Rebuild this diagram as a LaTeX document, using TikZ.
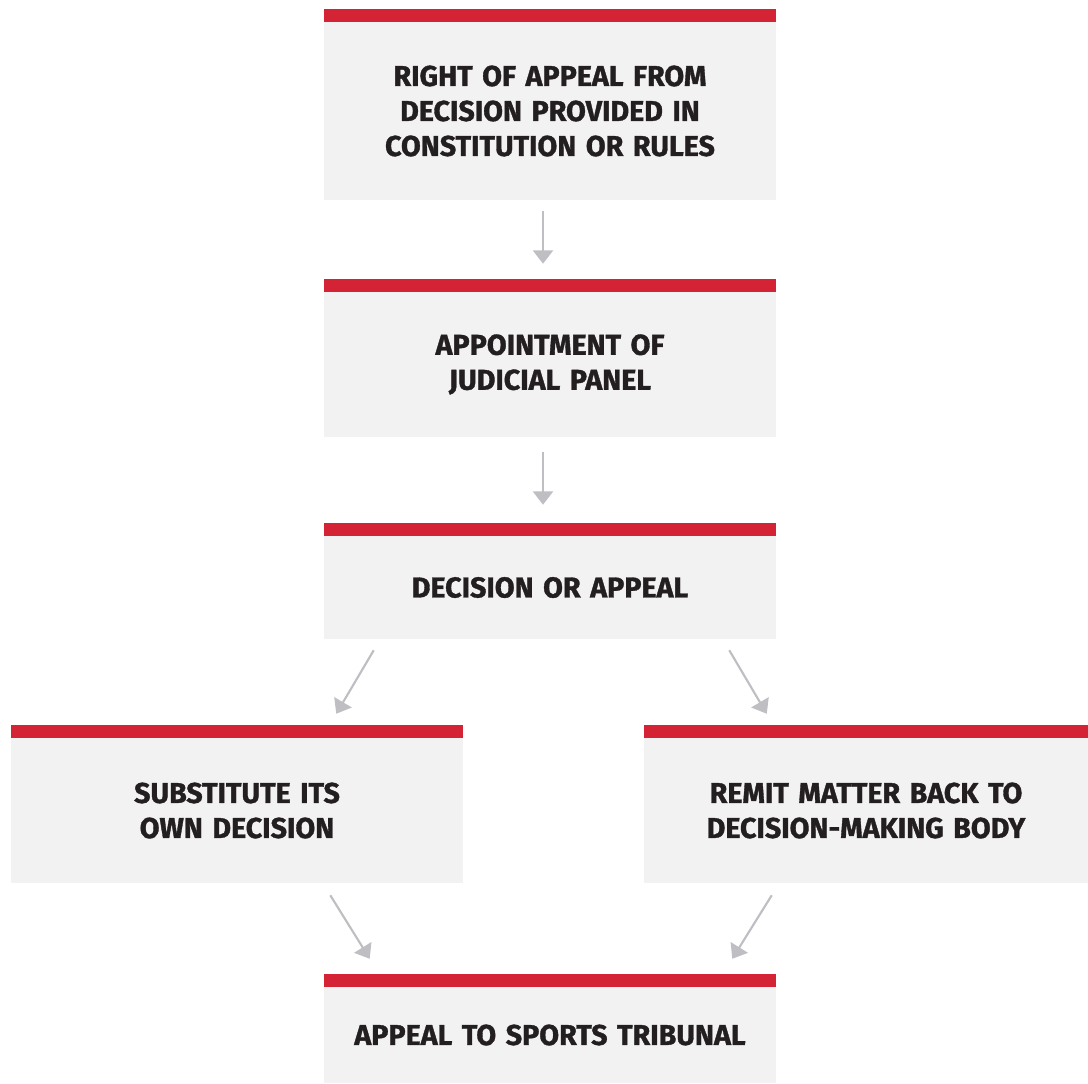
\documentclass[tikz,border=0pt]{standalone}
\usepackage{fontspec}
\setmainfont{Fira Sans}[BoldFeatures={FakeBold=1.2}, WordSpace=0.7]
\usetikzlibrary{arrows.meta,calc}

\definecolor{barred}{RGB}{212,35,52}
\definecolor{boxgrey}{RGB}{242,242,242}
\definecolor{arrowgrey}{RGB}{190,190,195}
\definecolor{inkblack}{RGB}{35,31,32}

\tikzset{
  stage/.style={fill=boxgrey, inner sep=0pt, minimum width=339pt, text width=330pt,
    align=center, text=inkblack, font=\fontsize{21.5}{26.25}\selectfont\bfseries},
  flow/.style={draw=arrowgrey, line width=1.6pt, -{Triangle[width=15pt,length=10pt]}},
}

\begin{document}
\begin{tikzpicture}[x=0.75pt,y=0.75pt,yscale=-1,xscale=1]
\useasboundingbox (0,0) rectangle (1088,1084);

% Boxes
\node[stage, minimum height=133.5pt] (right) at (550,111) {RIGHT OF APPEAL FROM\\DECISION PROVIDED IN\\CONSTITUTION OR RULES};
\node[stage, minimum height=108.75pt] (panel) at (550,364.5) {APPOINTMENT OF\\JUDICIAL PANEL};
\node[stage, minimum height=77.25pt] (decision) at (550,587.5) {DECISION OR APPEAL};
\node[stage, minimum height=108.75pt] (substitute) at (237,810.5) {SUBSTITUTE ITS\\OWN DECISION};
\node[stage, minimum height=108.75pt, minimum width=333pt] (remit) at (866,810.5) {REMIT MATTER BACK TO\\DECISION-MAKING BODY};
\node[stage, minimum height=72pt] (tribunal) at (550,1035) {APPEAL TO SPORTS TRIBUNAL};

% Red bars
\foreach \n in {right,panel,decision,substitute,remit,tribunal}
  \fill[barred] ($(\n.north west)+(0,-13)$) rectangle (\n.north east);

% Arrows
\draw[flow] ($(right.south)+(-7,11)$) -- ($(panel.north)+(-7,-28)$);
\draw[flow] ($(panel.south)+(-7,15)$) -- ($(decision.north)+(-7,-31)$);
\draw[flow] ($(decision.south west)+(50,11)$) -- ($(substitute.north east)+(-127,-24)$);
\draw[flow] ($(decision.south east)+(-47,11)$) -- ($(remit.north west)+(123,-24)$);
\draw[flow] ($(substitute.south east)+(-133,12)$) -- ($(tribunal.north west)+(46,-28)$);
\draw[flow] ($(remit.south west)+(128,12)$) -- ($(tribunal.north east)+(-44,-28)$);

\end{tikzpicture}
\end{document}
